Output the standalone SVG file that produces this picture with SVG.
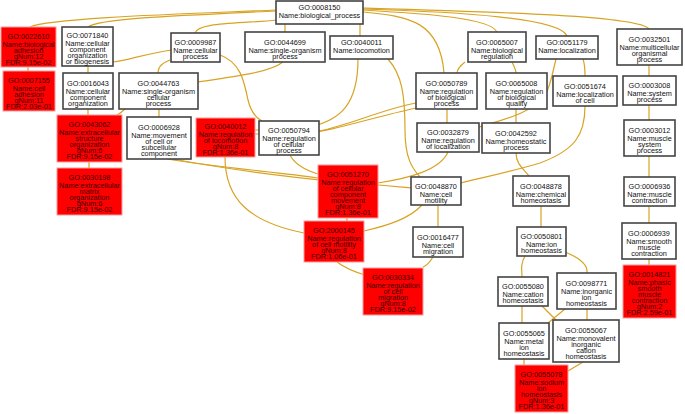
<svg xmlns="http://www.w3.org/2000/svg" width="685" height="414" viewBox="0 0 685 414">
<style>
.n rect{fill:#fff;stroke:#444;stroke-width:1.6}
.r rect{fill:#f00;stroke:#ff9a9a;stroke-width:1}
text{font-family:"Liberation Sans",Arial,sans-serif;font-size:7.3px;text-anchor:middle;fill:#111}
.r text{fill:#3a0000}
.e path{fill:none;stroke:#D8A323;stroke-width:1.2}
</style>
<rect width="685" height="414" fill="#fff"/>
<g id="connectors" class="e">
<path d="M276,10 C180,14 50,18 30,27"/>
<path d="M276,11 C190,15 100,18 88,27"/>
<path d="M277,20 C240,24 198,22 195,33"/>
<path d="M285,24 L285,32"/>
<path d="M360,24 L360,36"/>
<path d="M363,12 C410,16 440,22 444,73"/>
<path d="M363,10 C430,14 490,18 497,32"/>
<path d="M363,9 C460,12 560,18 567,36"/>
<path d="M363,8 C500,12 640,16 649,29"/>
<path d="M28,67 L28,71"/>
<path d="M88,66 L88,73"/>
<path d="M171,50 C140,55 130,60 113,62"/>
<path d="M170,60 C160,64 158,68 158,73"/>
<path d="M283,62 C270,72 240,76 198,82"/>
<path d="M88,109 L88,115"/>
<path d="M125,109 C122,112 119,114 117,115"/>
<path d="M159,109 L159,117"/>
<path d="M89,162 L89,168"/>
<path d="M220,55 C240,62 244,80 248,100 C251,112 256,118 262,121"/>
<path d="M358,59 C358,105 340,120 310,127 C290,130 270,130 255,130"/>
<path d="M416,103 C380,110 350,125 319,131"/>
<path d="M416,108 C370,118 330,132 300,134 L255,134"/>
<path d="M290,155 C295,165 305,170 318,174"/>
<path d="M167,159 C220,168 280,172 318,178"/>
<path d="M173,159 C230,170 300,178 340,182 C370,184 390,186 411,188"/>
<path d="M225,157 C225,200 250,222 304,233"/>
<path d="M347,218 L347,221"/>
<path d="M422,205 C410,218 390,225 364,231"/>
<path d="M438,205 L438,227"/>
<path d="M388,59 C402,75 405,95 405,130 C405,158 412,168 420,177"/>
<path d="M448,152 C440,170 410,178 378,183"/>
<path d="M447,109 L447,123"/>
<path d="M556,59 C552,75 550,88 545,95 C530,115 500,120 479,127"/>
<path d="M583,59 C585,65 585,70 585,76"/>
<path d="M585,106 C585,135 575,150 540,163 C510,172 480,178 461,183"/>
<path d="M512,62 C514,66 516,70 516,73"/>
<path d="M465,62 C460,66 457,70 457,73"/>
<path d="M516,109 L516,123"/>
<path d="M516,153 C516,165 525,170 529,176"/>
<path d="M541,206 L541,227"/>
<path d="M337,262 C345,268 355,272 365,275"/>
<path d="M433,257 C430,262 428,265 423,267"/>
<path d="M525,256 C520,265 522,270 522,277"/>
<path d="M565,252 C580,258 588,265 587,273"/>
<path d="M522,306 L522,323"/>
<path d="M565,309 L548,323"/>
<path d="M542,306 L556,320"/>
<path d="M587,309 L587,320"/>
<path d="M524,359 L524,365"/>
<path d="M583,362 L568,371"/>
<path d="M649,65 L649,76"/>
<path d="M649,105 L649,120"/>
<path d="M649,156 L649,177"/>
<path d="M649,206 L649,223"/>
<path d="M649,259 L649,265"/>
</g>
<g id="GO0008150" class="n"><rect x="276" y="1" width="87" height="23"/><text y="10"><tspan x="319.5">GO:0008150</tspan><tspan x="319.5" dy="8">Name:biological_process</tspan></text></g>
<g id="GO0022610" class="r"><rect x="1" y="27" width="55" height="40"/><text y="38.5"><tspan x="28.5">GO:0022610</tspan><tspan x="28.5" dy="8">Name:biological</tspan><tspan x="28.5" dy="6">adhesion</tspan><tspan x="28.5" dy="6">gNum:12</tspan><tspan x="28.5" dy="6">FDR:9.15e-02</tspan></text></g>
<g id="GO0007155" class="r"><rect x="3" y="71" width="52" height="40"/><text y="82.5"><tspan x="29">GO:0007155</tspan><tspan x="29" dy="8">Name:cell</tspan><tspan x="29" dy="6">adhesion</tspan><tspan x="29" dy="6">gNum:11</tspan><tspan x="29" dy="6">FDR:2.03e-01</tspan></text></g>
<g id="GO0071840" class="n"><rect x="62" y="27" width="51" height="39"/><text y="38"><tspan x="87.5">GO:0071840</tspan><tspan x="87.5" dy="8">Name:cellular</tspan><tspan x="87.5" dy="6">component</tspan><tspan x="87.5" dy="6">organization</tspan><tspan x="87.5" dy="6">or biogenesis</tspan></text></g>
<g id="GO0009987" class="n"><rect x="171" y="33" width="49" height="29"/><text y="45"><tspan x="195.5">GO:0009987</tspan><tspan x="195.5" dy="8">Name:cellular</tspan><tspan x="195.5" dy="6">process</tspan></text></g>
<g id="GO0044699" class="n"><rect x="245" y="32" width="80" height="30"/><text y="44.5"><tspan x="285">GO:0044699</tspan><tspan x="285" dy="8">Name:single-organism</tspan><tspan x="285" dy="6">process</tspan></text></g>
<g id="GO0040011" class="n"><rect x="330" y="36" width="63" height="23"/><text y="45"><tspan x="361.5">GO:0040011</tspan><tspan x="361.5" dy="8">Name:locomotion</tspan></text></g>
<g id="GO0065007" class="n"><rect x="468" y="32" width="58" height="30"/><text y="44.5"><tspan x="497">GO:0065007</tspan><tspan x="497" dy="8">Name:biological</tspan><tspan x="497" dy="6">regulation</tspan></text></g>
<g id="GO0051179" class="n"><rect x="536" y="36" width="62" height="23"/><text y="45"><tspan x="567">GO:0051179</tspan><tspan x="567" dy="8">Name:localization</tspan></text></g>
<g id="GO0032501" class="n"><rect x="617" y="29" width="65" height="36"/><text y="41.5"><tspan x="649.5">GO:0032501</tspan><tspan x="649.5" dy="8">Name:multicellular</tspan><tspan x="649.5" dy="6">organismal</tspan><tspan x="649.5" dy="6">process</tspan></text></g>
<g id="GO0016043" class="n"><rect x="63" y="73" width="50" height="36"/><text y="85.5"><tspan x="88">GO:0016043</tspan><tspan x="88" dy="8">Name:cellular</tspan><tspan x="88" dy="6">component</tspan><tspan x="88" dy="6">organization</tspan></text></g>
<g id="GO0044763" class="n"><rect x="119" y="73" width="79" height="36"/><text y="85.5"><tspan x="158.5">GO:0044763</tspan><tspan x="158.5" dy="8">Name:single-organism</tspan><tspan x="158.5" dy="6">cellular</tspan><tspan x="158.5" dy="6">process</tspan></text></g>
<g id="GO0050789" class="n"><rect x="416" y="73" width="61" height="36"/><text y="85.5"><tspan x="446.5">GO:0050789</tspan><tspan x="446.5" dy="8">Name:regulation</tspan><tspan x="446.5" dy="6">of biological</tspan><tspan x="446.5" dy="6">process</tspan></text></g>
<g id="GO0065008" class="n"><rect x="486" y="73" width="61" height="36"/><text y="85.5"><tspan x="516.5">GO:0065008</tspan><tspan x="516.5" dy="8">Name:regulation</tspan><tspan x="516.5" dy="6">of biological</tspan><tspan x="516.5" dy="6">quality</tspan></text></g>
<g id="GO0051674" class="n"><rect x="553" y="76" width="64" height="30"/><text y="88.5"><tspan x="585">GO:0051674</tspan><tspan x="585" dy="8">Name:localization</tspan><tspan x="585" dy="6">of cell</tspan></text></g>
<g id="GO0003008" class="n"><rect x="623" y="76" width="53" height="29"/><text y="88"><tspan x="649.5">GO:0003008</tspan><tspan x="649.5" dy="8">Name:system</tspan><tspan x="649.5" dy="6">process</tspan></text></g>
<g id="GO0043062" class="r"><rect x="57" y="115" width="65" height="47"/><text y="127"><tspan x="89.5">GO:0043062</tspan><tspan x="89.5" dy="8">Name:extracellular</tspan><tspan x="89.5" dy="6">structure</tspan><tspan x="89.5" dy="6">organization</tspan><tspan x="89.5" dy="6">gNum:6</tspan><tspan x="89.5" dy="6">FDR:9.15e-02</tspan></text></g>
<g id="GO0006928" class="n"><rect x="127" y="117" width="64" height="42"/><text y="129.5"><tspan x="159">GO:0006928</tspan><tspan x="159" dy="8">Name:movement</tspan><tspan x="159" dy="6">of cell or</tspan><tspan x="159" dy="6">subcellular</tspan><tspan x="159" dy="6">component</tspan></text></g>
<g id="GO0040012" class="r"><rect x="196" y="118" width="59" height="39"/><text y="129"><tspan x="225.5">GO:0040012</tspan><tspan x="225.5" dy="8">Name:regulation</tspan><tspan x="225.5" dy="6">of locomotion</tspan><tspan x="225.5" dy="6">gNum:8</tspan><tspan x="225.5" dy="6">FDR:1.36e-01</tspan></text></g>
<g id="GO0050794" class="n"><rect x="259" y="121" width="60" height="34"/><text y="132.5"><tspan x="289">GO:0050794</tspan><tspan x="289" dy="8">Name:regulation</tspan><tspan x="289" dy="6">of cellular</tspan><tspan x="289" dy="6">process</tspan></text></g>
<g id="GO0032879" class="n"><rect x="417" y="123" width="62" height="29"/><text y="135"><tspan x="448">GO:0032879</tspan><tspan x="448" dy="8">Name:regulation</tspan><tspan x="448" dy="6">of localization</tspan></text></g>
<g id="GO0042592" class="n"><rect x="482" y="123" width="68" height="30"/><text y="135.5"><tspan x="516">GO:0042592</tspan><tspan x="516" dy="8">Name:homeostatic</tspan><tspan x="516" dy="6">process</tspan></text></g>
<g id="GO0003012" class="n"><rect x="624" y="120" width="51" height="36"/><text y="132.5"><tspan x="649.5">GO:0003012</tspan><tspan x="649.5" dy="8">Name:muscle</tspan><tspan x="649.5" dy="6">system</tspan><tspan x="649.5" dy="6">process</tspan></text></g>
<g id="GO0030198" class="r"><rect x="57" y="168" width="65" height="47"/><text y="180"><tspan x="89.5">GO:0030198</tspan><tspan x="89.5" dy="8">Name:extracellular</tspan><tspan x="89.5" dy="6">matrix</tspan><tspan x="89.5" dy="6">organization</tspan><tspan x="89.5" dy="6">gNum:6</tspan><tspan x="89.5" dy="6">FDR:9.15e-02</tspan></text></g>
<g id="GO0051270" class="r"><rect x="318" y="165" width="60" height="53"/><text y="177"><tspan x="348">GO:0051270</tspan><tspan x="348" dy="8">Name:regulation</tspan><tspan x="348" dy="6">of cellular</tspan><tspan x="348" dy="6">component</tspan><tspan x="348" dy="6">movement</tspan><tspan x="348" dy="6">gNum:8</tspan><tspan x="348" dy="6">FDR:1.36e-01</tspan></text></g>
<g id="GO0048870" class="n"><rect x="411" y="177" width="50" height="28"/><text y="188.5"><tspan x="436">GO:0048870</tspan><tspan x="436" dy="8">Name:cell</tspan><tspan x="436" dy="6">motility</tspan></text></g>
<g id="GO0048878" class="n"><rect x="513" y="176" width="56" height="30"/><text y="188.5"><tspan x="541">GO:0048878</tspan><tspan x="541" dy="8">Name:chemical</tspan><tspan x="541" dy="6">homeostasis</tspan></text></g>
<g id="GO0006936" class="n"><rect x="624" y="177" width="51" height="29"/><text y="189"><tspan x="649.5">GO:0006936</tspan><tspan x="649.5" dy="8">Name:muscle</tspan><tspan x="649.5" dy="6">contraction</tspan></text></g>
<g id="GO2000145" class="r"><rect x="304" y="221" width="60" height="41"/><text y="233"><tspan x="334">GO:2000145</tspan><tspan x="334" dy="8">Name:regulation</tspan><tspan x="334" dy="6">of cell motility</tspan><tspan x="334" dy="6">gNum:8</tspan><tspan x="334" dy="6">FDR:1.06e-01</tspan></text></g>
<g id="GO0016477" class="n"><rect x="413" y="227" width="50" height="30"/><text y="239.5"><tspan x="438">GO:0016477</tspan><tspan x="438" dy="8">Name:cell</tspan><tspan x="438" dy="6">migration</tspan></text></g>
<g id="GO0050801" class="n"><rect x="517" y="227" width="49" height="29"/><text y="239"><tspan x="541.5">GO:0050801</tspan><tspan x="541.5" dy="8">Name:ion</tspan><tspan x="541.5" dy="6">homeostasis</tspan></text></g>
<g id="GO0006939" class="n"><rect x="622" y="223" width="54" height="36"/><text y="235.5"><tspan x="649">GO:0006939</tspan><tspan x="649" dy="8">Name:smooth</tspan><tspan x="649" dy="6">muscle</tspan><tspan x="649" dy="6">contraction</tspan></text></g>
<g id="GO0030334" class="r"><rect x="363" y="268" width="60" height="47"/><text y="280"><tspan x="393">GO:0030334</tspan><tspan x="393" dy="8">Name:regulation</tspan><tspan x="393" dy="6">of cell</tspan><tspan x="393" dy="6">migration</tspan><tspan x="393" dy="6">gNum:8</tspan><tspan x="393" dy="6">FDR:9.15e-02</tspan></text></g>
<g id="GO0014821" class="r"><rect x="623" y="265" width="53" height="53"/><text y="277"><tspan x="649.5">GO:0014821</tspan><tspan x="649.5" dy="8">Name:phasic</tspan><tspan x="649.5" dy="6">smooth</tspan><tspan x="649.5" dy="6">muscle</tspan><tspan x="649.5" dy="6">contraction</tspan><tspan x="649.5" dy="6">gNum:2</tspan><tspan x="649.5" dy="6">FDR:2.59e-01</tspan></text></g>
<g id="GO0055080" class="n"><rect x="498" y="277" width="50" height="29"/><text y="289"><tspan x="523">GO:0055080</tspan><tspan x="523" dy="8">Name:cation</tspan><tspan x="523" dy="6">homeostasis</tspan></text></g>
<g id="GO0098771" class="n"><rect x="557" y="273" width="59" height="36"/><text y="285.5"><tspan x="586.5">GO:0098771</tspan><tspan x="586.5" dy="8">Name:inorganic</tspan><tspan x="586.5" dy="6">ion</tspan><tspan x="586.5" dy="6">homeostasis</tspan></text></g>
<g id="GO0055065" class="n"><rect x="499" y="323" width="50" height="36"/><text y="335.5"><tspan x="524">GO:0055065</tspan><tspan x="524" dy="8">Name:metal</tspan><tspan x="524" dy="6">ion</tspan><tspan x="524" dy="6">homeostasis</tspan></text></g>
<g id="GO0055067" class="n"><rect x="553" y="320" width="66" height="42"/><text y="332.5"><tspan x="586">GO:0055067</tspan><tspan x="586" dy="8">Name:monovalent</tspan><tspan x="586" dy="6">inorganic</tspan><tspan x="586" dy="6">cation</tspan><tspan x="586" dy="6">homeostasis</tspan></text></g>
<g id="GO0055078" class="r"><rect x="515" y="365" width="53" height="47"/><text y="377"><tspan x="541.5">GO:0055078</tspan><tspan x="541.5" dy="8">Name:sodium</tspan><tspan x="541.5" dy="6">ion</tspan><tspan x="541.5" dy="6">homeostasis</tspan><tspan x="541.5" dy="6">gNum:3</tspan><tspan x="541.5" dy="6">FDR:1.36e-01</tspan></text></g>
</svg>
